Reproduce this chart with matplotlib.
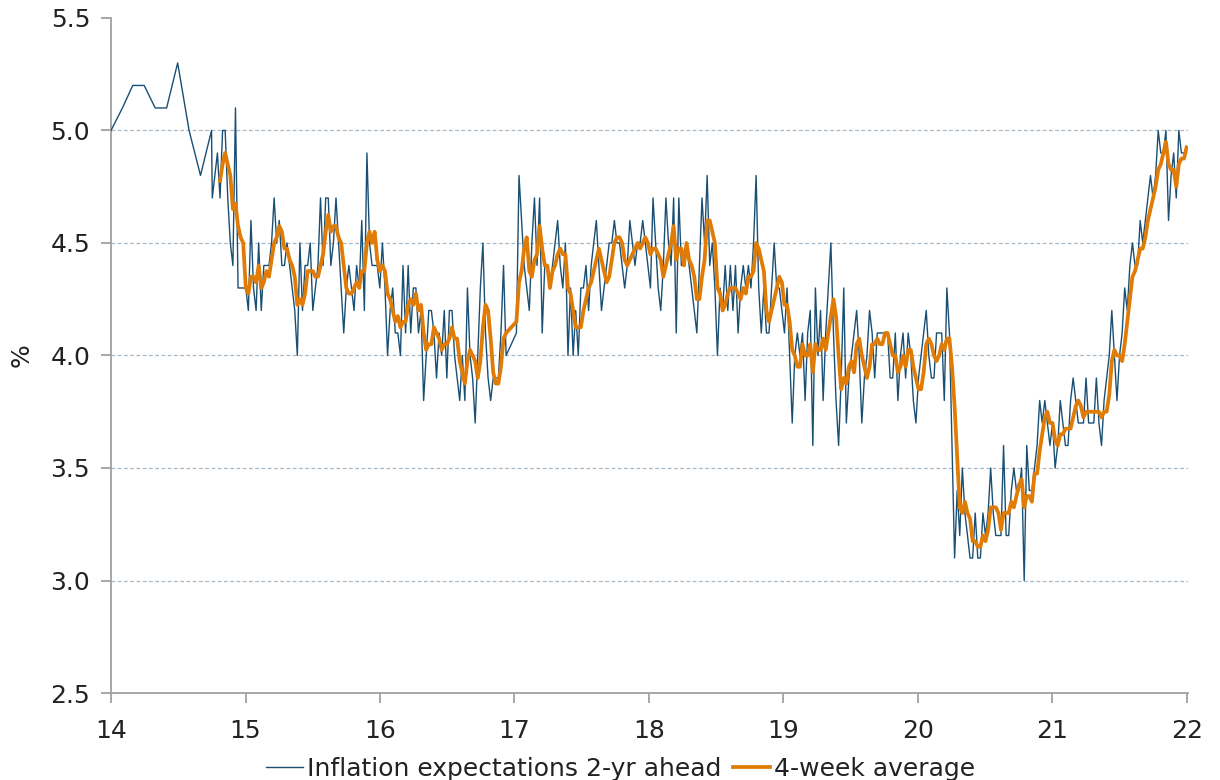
import numpy as np
import pandas as pd
import matplotlib
matplotlib.use("Agg")
import matplotlib.pyplot as plt

# ---------------- data ----------------
monthly_dates = ["2014-01-01", "2014-02-01", "2014-03-01", "2014-04-01", "2014-05-01",
                 "2014-06-01", "2014-07-01", "2014-08-01", "2014-09-01", "2014-10-01"]
monthly_values = [5.0, 5.1, 5.2, 5.2, 5.1, 5.1, 5.3, 5.0, 4.8, 5.0]

weekly_start = "2014-10-03"
# weekly survey values (None = no survey that week)
weekly_values = [
    4.7, 4.8, 4.9, 4.7, 5.0, 5.0, 4.7, 4.5, 4.4, 5.1,
    4.3, 4.3, 4.3, 4.3, 4.2, 4.6, 4.3, 4.2, 4.5, 4.2,
    4.4, 4.4, 4.4, 4.5, 4.7, 4.5, 4.6, 4.4, 4.4, 4.5,
    4.4, 4.3, 4.2, 4.0, 4.5, 4.2, 4.4, 4.4, 4.5, 4.2,
    4.3, 4.4, 4.7, 4.4, 4.7, 4.7, 4.4, 4.5, 4.7, 4.5,
    4.3, 4.1, 4.3,
    4.4, 4.3, 4.2, 4.4, 4.3, 4.6, 4.2, 4.9, 4.5, 4.4,
    4.4, 4.4, 4.3, 4.5, 4.3, 4.0, 4.2, 4.3, 4.1, 4.1,
    4.0, 4.4, 4.1, 4.4, 4.1, 4.3, 4.3, 4.1, 4.2, 3.8,
    4.0, 4.2, 4.2, 4.1, 3.9, 4.1, 4.0, 4.2, 3.9, 4.2,
    4.2, 4.0, 3.9, 3.8, 4.0, 3.8, 4.3, 4.0, 3.9, 3.7,
    4.0, 4.3, 4.5, 4.1, 3.9, 3.8, 3.9, 3.9, 3.9, 4.1,
    4.4, 4.0,
    None, None, None,
    4.1, 4.8, 4.6, 4.4, 4.3, 4.2, 4.5, 4.7, 4.4, 4.7,
    4.1, 4.4, 4.4, 4.3, 4.4, 4.5, 4.6, 4.4, 4.3, 4.5,
    4.0, 4.3, 4.0, 4.2, 4.0, 4.3, 4.3, 4.4, 4.2, 4.4,
    4.5, 4.6, 4.4, 4.2, 4.3, 4.4, 4.5, 4.5, 4.6, 4.5,
    4.5, 4.4,
    4.3, 4.4, 4.6, 4.5, 4.4, 4.5, 4.5, 4.6, 4.5, 4.4,
    4.3, 4.7, 4.5, 4.3, 4.2, 4.4, 4.7, 4.5, 4.4, 4.7,
    4.1, 4.7, 4.4, 4.4, 4.5, 4.4, 4.3, 4.2, 4.1, 4.4,
    4.7, 4.5, 4.8, 4.4, 4.5, 4.3, 4.0, 4.3, 4.2, 4.4,
    4.2, 4.4, 4.2, 4.4, 4.1, 4.3, 4.4, 4.3, 4.4, 4.3,
    4.5, 4.8, 4.3, 4.1, 4.3, 4.1,
    4.1, 4.3, 4.5, 4.3, 4.3, 4.2, 4.1, 4.3, 4.0, 3.7,
    4.0, 4.1, 4.0, 4.1, 3.8, 4.1, 4.2, 3.6, 4.3, 4.0,
    4.2, 3.8, 4.1, 4.3, 4.5, 4.1, 3.8, 3.6, 3.9, 4.3,
    3.7, 3.9, 4.0, 4.1, 4.2, 4.0, 3.7, 3.9, 4.0, 4.2,
    4.1, 3.9, 4.1, 4.1, 4.1, 4.1, 4.1, 3.9, 3.9, 4.1,
    3.8, 4.0, 4.1, 3.9, 4.1, 4.0, 3.8,
    3.7, 3.9, 4.0, 4.1, 4.2, 4.0, 3.9, 3.9, 4.1, 4.1,
    4.1, 3.8, 4.3, 4.1, 3.6, 3.1, 3.4, 3.2, 3.5, 3.3,
    3.2, 3.1, 3.1, 3.3, 3.1, 3.1, 3.3, 3.2, 3.3, 3.5,
    3.3, 3.2, 3.2, 3.2, 3.6, 3.2, 3.2, 3.4, 3.5, 3.4,
    3.4, 3.5, 3.0, 3.6, 3.4, 3.4, 3.5, 3.6, 3.8, 3.7,
    3.8, 3.7,
    3.6, 3.7, 3.5, 3.6, 3.8, 3.7, 3.6, 3.6, 3.8, 3.9,
    3.8, 3.7, 3.7, 3.7, 3.9, 3.7, 3.7, 3.7, 3.9, 3.7,
    3.6, 3.8, 3.9, 4.0, 4.2, 4.0, 3.8, 4.0, 4.1, 4.3,
    4.2, 4.4, 4.5, 4.4, 4.4, 4.6, 4.5, 4.6, 4.7, 4.8,
    4.7, 4.8, 5.0, 4.9, 4.9, 5.0, 4.6, 4.8, 4.9, 4.7,
    5.0, 4.9, 4.9, 4.9,
]

y_ticks = [2.5, 3.0, 3.5, 4.0, 4.5, 5.0, 5.5]
x_ticks = [14, 15, 16, 17, 18, 19, 20, 21, 22]
x_ticklabels = ["14", "15", "16", "17", "18", "19", "20", "21", "22"]
series_names = ["Inflation expectations 2-yr ahead", "4-week average"]

# ---------------- prep ----------------
base = pd.Timestamp("2014-01-01")


def to_year(ts):
    return 14 + (ts - base).days / 365.25


m_x = [to_year(pd.Timestamp(d)) for d in monthly_dates]
w_dates = pd.date_range(weekly_start, periods=len(weekly_values), freq="7D")
wk = pd.Series(weekly_values, index=[to_year(d) for d in w_dates], dtype="float").dropna()
avg4 = wk.rolling(4).mean().dropna()

blue_x = list(m_x) + list(wk.index)
blue_y = list(monthly_values) + list(wk.values)

# ---------------- plot ----------------
plt.rcParams['font.family'] = ['DejaVu Sans']
fig = plt.figure(figsize=(12.2, 7.8), dpi=100)
ax = fig.add_axes([0.091, 0.1115, 0.883, 0.8655])

blue = "#1A4F74"
orange = "#E07B06"
FS = 18
ax.plot(blue_x, blue_y, color=blue, lw=1.0, label=series_names[0], zorder=3)
ax.plot(avg4.index, avg4.values, color=orange, lw=2.7, label=series_names[1], zorder=4,
        solid_joinstyle="round")

ax.set_xlim(14, 22.01)
ax.set_ylim(2.5, 5.5)
ax.set_yticks(y_ticks)
ax.set_yticklabels([f"{v:.1f}" for v in y_ticks])
ax.set_xticks(x_ticks)
ax.set_xticklabels(x_ticklabels)

gray = "#A0A0A0"
for s in ["top", "right"]:
    ax.spines[s].set_visible(False)
for s in ["left", "bottom"]:
    ax.spines[s].set_color(gray)
    ax.spines[s].set_linewidth(1.3)
ax.tick_params(axis="both", colors=gray, length=7, width=1.3, labelsize=FS,
               labelcolor="#222222", direction="out")
ax.tick_params(axis="y", pad=8)
ax.tick_params(axis="x", pad=12)

ax.yaxis.grid(True, color="#A8B8C4", linestyle=(0, (3, 2)), linewidth=0.9)
ax.set_axisbelow(True)
gl = ax.get_ygridlines()
gl[0].set_visible(False)
gl[-1].set_visible(False)

ax.set_ylabel("%", fontsize=FS, color="#222222", labelpad=12)

leg = ax.legend(loc="upper center", bbox_to_anchor=(0.473, -0.08), ncol=2, frameon=False,
                fontsize=FS, handlelength=1.5, handletextpad=0.15, columnspacing=0.45,
                borderaxespad=0)
for t in leg.get_texts():
    t.set_color("#222222")

fig.savefig("out.png", dpi=100)
